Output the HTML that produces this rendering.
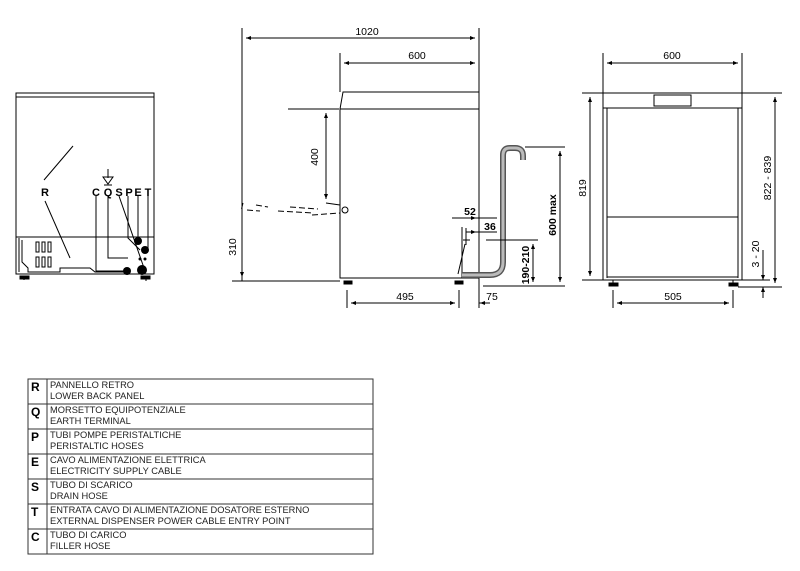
<!DOCTYPE html>
<html><head><meta charset="utf-8"><style>
html,body{margin:0;padding:0;background:#fff;}
svg{display:block;font-family:"Liberation Sans",Arial,sans-serif;}
</style></head><body>
<svg width="800" height="571" viewBox="0 0 800 571" xmlns="http://www.w3.org/2000/svg">
<defs>
<marker id="a" viewBox="0 0 10 10" refX="10" refY="5" markerWidth="7" markerHeight="5" orient="auto-start-reverse"><path d="M0,1 L10,5 L0,9z" fill="#000"/></marker>
</defs>
<g stroke="#000" fill="none" stroke-width="1">
<!-- LEFT: back view -->
<rect x="16" y="93" width="138" height="181"/>
<line x1="16" y1="97" x2="154" y2="97"/>
<line x1="16" y1="237" x2="154" y2="237"/>
<path d="M22,240 L22,262 L28,268 L28,272 L60,272 L60,268 L90,268 L95,272 L125,272" />
<rect x="36" y="242" width="3" height="10"/><rect x="42" y="242" width="3" height="10"/><rect x="48" y="242" width="3" height="10"/>
<rect x="36" y="257" width="3" height="10"/><rect x="42" y="257" width="3" height="10"/><rect x="48" y="257" width="3" height="10"/>
<line x1="19" y1="238" x2="19" y2="272"/>
<rect x="20" y="276" width="9" height="3" fill="#000"/><rect x="141" y="276" width="9" height="3" fill="#000"/>
<line x1="24" y1="276" x2="24" y2="280"/><line x1="146" y1="276" x2="146" y2="281"/>
<line x1="44" y1="180" x2="73" y2="146"/>
<line x1="45" y1="201" x2="70" y2="258"/>
<path d="M96,196 L96,271 L126,271"/>
<path d="M108,196 L108,258 L128,258"/>
<line x1="119" y1="196" x2="144" y2="268"/>
<path d="M128,196 L128,238 L140,250"/>
<line x1="138" y1="196" x2="138" y2="241"/>
<line x1="148" y1="196" x2="148" y2="248"/>
<line x1="108" y1="169" x2="108" y2="178"/>
<path d="M103,177 L113,177 L108,184z"/>
<line x1="104" y1="185" x2="112" y2="185"/>
<!-- SIDE VIEW -->
<line x1="242" y1="28" x2="242" y2="281"/>
<line x1="479" y1="28" x2="479" y2="308"/>
<line x1="340" y1="53" x2="340" y2="92"/>
<line x1="246" y1="38" x2="475" y2="38" marker-start="url(#a)" marker-end="url(#a)"/>
<line x1="344" y1="63" x2="475" y2="63" marker-start="url(#a)" marker-end="url(#a)"/>
<path d="M343,92 L479,92 L479,278 L340,278 L340,109 Z"/>
<line x1="340" y1="109" x2="479" y2="109"/>
<line x1="462" y1="227" x2="462" y2="278"/>
<rect x="344" y="281" width="8" height="3" fill="#000"/><rect x="455" y="281" width="8" height="3" fill="#000"/>
<line x1="288" y1="109" x2="339" y2="109"/>
<line x1="326" y1="113" x2="326" y2="199" marker-start="url(#a)" marker-end="url(#a)"/>
<line x1="326" y1="203" x2="340" y2="205"/>
<circle cx="345" cy="210" r="3"/>
<path d="M243,203 L241,211 M256,205 L268,207 M290,207 L318,209 M247,210 L260,211 M278,211 L314,213 M312,215 L340,213" stroke-dasharray="6,3"/>
<line x1="232" y1="281" x2="340" y2="281"/>
<line x1="242" y1="213" x2="242" y2="277" marker-end="url(#a)"/>
<path d="M462,275 L490,275 Q503,275 503,262 L503,155 Q503,148 510,148 L515,148 Q523,148 523,156 L523,160" stroke="#555" stroke-width="6"/>
<path d="M462,275 L490,275 Q503,275 503,262 L503,155 Q503,148 510,148 L515,148 Q523,148 523,156 L523,160" stroke="#bbb" stroke-width="3"/>
<line x1="465" y1="244" x2="458" y2="274"/>
<line x1="463" y1="240" x2="470" y2="240"/>
<line x1="525" y1="147" x2="565" y2="147"/>
<line x1="483" y1="286" x2="565" y2="286"/>
<line x1="560" y1="151" x2="560" y2="282" marker-start="url(#a)" marker-end="url(#a)"/>
<line x1="486" y1="240" x2="538" y2="240"/>
<line x1="533" y1="244" x2="533" y2="282" marker-start="url(#a)" marker-end="url(#a)"/>
<line x1="452" y1="218" x2="497" y2="218"/>
<line x1="466" y1="218" x2="476" y2="218" marker-end="url(#a)"/>
<line x1="466" y1="228" x2="466" y2="245"/>
<line x1="466" y1="232" x2="497" y2="232"/>
<line x1="470" y1="232" x2="476" y2="232" marker-end="url(#a)"/>
<line x1="347" y1="290" x2="347" y2="308"/><line x1="459" y1="290" x2="459" y2="308"/>
<line x1="351" y1="303" x2="455" y2="303" marker-start="url(#a)" marker-end="url(#a)"/>
<line x1="479" y1="303" x2="490" y2="303" />
<line x1="480" y1="303" x2="483" y2="303" marker-start="url(#a)"/>
<!-- FRONT VIEW -->
<line x1="603" y1="53" x2="603" y2="93"/><line x1="742" y1="53" x2="742" y2="93"/>
<line x1="607" y1="63" x2="738" y2="63" marker-start="url(#a)" marker-end="url(#a)"/>
<rect x="603" y="93" width="139" height="187"/>
<line x1="603" y1="108" x2="742" y2="108"/>
<line x1="607" y1="108" x2="607" y2="278"/><line x1="738" y1="108" x2="738" y2="278"/>
<line x1="607" y1="277" x2="738" y2="277"/>
<line x1="607" y1="217" x2="738" y2="217"/>
<rect x="654" y="95" width="37" height="11"/>
<rect x="609" y="283" width="9" height="3" fill="#000"/><rect x="729" y="283" width="9" height="3" fill="#000"/>
<line x1="613" y1="280" x2="613" y2="283"/><line x1="733" y1="280" x2="733" y2="283"/>
<line x1="582" y1="93" x2="603" y2="93"/><line x1="582" y1="280" x2="603" y2="280"/>
<line x1="590" y1="97" x2="590" y2="276" marker-start="url(#a)" marker-end="url(#a)"/>
<line x1="742" y1="93" x2="782" y2="93"/><line x1="738" y1="287" x2="782" y2="287"/>
<line x1="775" y1="97" x2="775" y2="283" marker-start="url(#a)" marker-end="url(#a)"/>
<line x1="742" y1="280" x2="770" y2="280"/>
<line x1="763" y1="250" x2="763" y2="280" marker-end="url(#a)"/>
<line x1="763" y1="298" x2="763" y2="287" marker-end="url(#a)"/>
<line x1="613" y1="290" x2="613" y2="308"/><line x1="733" y1="290" x2="733" y2="308"/>
<line x1="617" y1="303" x2="729" y2="303" marker-start="url(#a)" marker-end="url(#a)"/>
<!-- TABLE -->
<rect x="28" y="379" width="345" height="175" stroke="#333"/>
<line x1="47" y1="379" x2="47" y2="554" stroke="#333"/>
<g stroke="#333"><line x1="28" y1="404" x2="373" y2="404"/><line x1="28" y1="429" x2="373" y2="429"/><line x1="28" y1="454" x2="373" y2="454"/><line x1="28" y1="479" x2="373" y2="479"/><line x1="28" y1="504" x2="373" y2="504"/><line x1="28" y1="529" x2="373" y2="529"/></g>
</g>
<g fill="#000" stroke="none">
<circle cx="138" cy="241" r="4"/><circle cx="145" cy="250" r="4"/><circle cx="127" cy="271" r="4"/><circle cx="142" cy="270" r="5"/>
<circle cx="140" cy="259" r="1.5"/><circle cx="145" cy="259" r="1.5"/>
</g>
<g font-size="11" font-weight="bold" text-anchor="middle">
<text x="45" y="196">R</text><text x="96" y="196">C</text><text x="108" y="196">Q</text><text x="119" y="196">S</text><text x="129" y="196">P</text><text x="138" y="196">E</text><text x="148" y="196">T</text>
</g>
<g font-size="10.5" text-anchor="middle" fill="#000">
<text x="367" y="35">1020</text>
<text x="417" y="59">600</text>
<text x="318" y="157" transform="rotate(-90 318 157)">400</text>
<text x="236" y="247" transform="rotate(-90 236 247)">310</text>
<text x="470" y="215" font-weight="bold">52</text>
<text x="490" y="230" font-weight="bold">36</text>
<text x="529" y="265" transform="rotate(-90 529 265)" font-weight="bold">190-210</text>
<text x="556" y="215" transform="rotate(-90 556 215)" font-weight="bold">600 max</text>
<text x="405" y="300">495</text>
<text x="492" y="300">75</text>
<text x="672" y="59">600</text>
<text x="586" y="188" transform="rotate(-90 586 188)">819</text>
<text x="771" y="178" transform="rotate(-90 771 178)">822 - 839</text>
<text x="759" y="254" transform="rotate(-90 759 254)">3 - 20</text>
<text x="673" y="300">505</text>
</g>
<g font-size="12" font-weight="bold"><text x="31" y="391">R</text><text x="31" y="416">Q</text><text x="31" y="441">P</text><text x="31" y="466">E</text><text x="31" y="491">S</text><text x="31" y="516">T</text><text x="31" y="541">C</text></g>
<g font-size="9.3" fill="#222">
<text x="50" y="388">PANNELLO RETRO</text><text x="50" y="399">LOWER BACK PANEL</text>
<text x="50" y="413">MORSETTO EQUIPOTENZIALE</text><text x="50" y="424">EARTH TERMINAL</text>
<text x="50" y="438">TUBI POMPE PERISTALTICHE</text><text x="50" y="449">PERISTALTIC HOSES</text>
<text x="50" y="463">CAVO ALIMENTAZIONE ELETTRICA</text><text x="50" y="474">ELECTRICITY SUPPLY CABLE</text>
<text x="50" y="488">TUBO DI SCARICO</text><text x="50" y="499">DRAIN HOSE</text>
<text x="50" y="513">ENTRATA CAVO DI ALIMENTAZIONE DOSATORE ESTERNO</text><text x="50" y="524">EXTERNAL DISPENSER POWER CABLE ENTRY POINT</text>
<text x="50" y="538">TUBO DI CARICO</text><text x="50" y="549">FILLER HOSE</text>
</g>
</svg>
</body></html>
